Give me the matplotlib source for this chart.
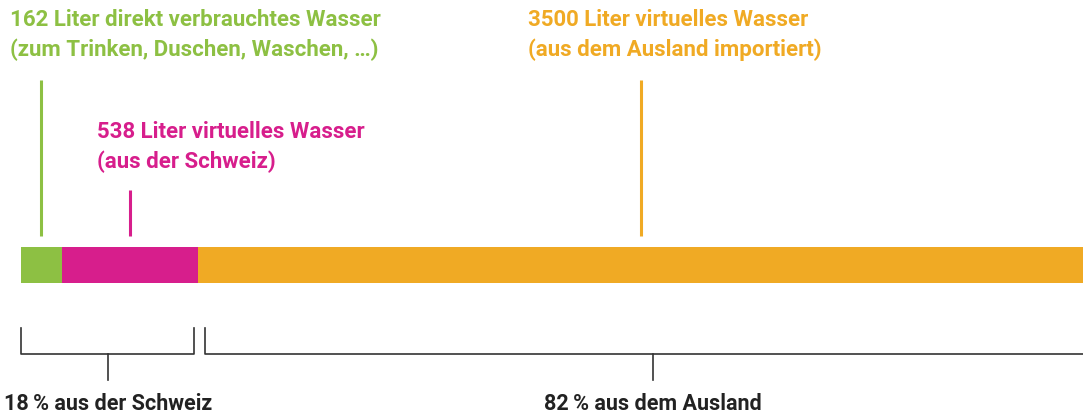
import matplotlib.pyplot as plt

# litres per person and day
parts = ["direkt", "virtuell CH", "virtuell Ausland"]
liters = [162, 538, 3500]
colors = ["#8DC043", "#D71E8C", "#F0AA24"]
labels = [
    "162 Liter direkt verbrauchtes Wasser\n(zum Trinken, Duschen, Waschen, …)",
    "538 Liter virtuelles Wasser\n(aus der Schweiz)",
    "3500 Liter virtuelles Wasser\n(aus dem Ausland importiert)",
]
groups = ["18\u2009% aus der Schweiz", "82\u2009% aus dem Ausland"]
group_parts = [(0, 2), (2, 3)]

plt.rcParams['font.family'] = ['Roboto', 'DejaVu Sans']

fig = plt.figure(figsize=(10.83, 4.15), dpi=100)
ax = fig.add_axes([21 / 1083, 0, 1062 / 1083, 1])
total = sum(liters)
ax.set_xlim(0, total)
ax.set_ylim(415, 0)  # pixel-like vertical units, top = 0
ax.axis('off')

# stacked bar
left = 0
starts = []
for val, col in zip(liters, colors):
    ax.barh(265, val, left=left, height=36, color=col, linewidth=0)
    starts.append(left)
    left += val

# label pointer lines + text
text_x = [-11, 76, 507]   # pixel offsets from axes left
text_y = [35, 147, 35]
line_top = [80, 190, 80]
for i, (val, s) in enumerate(zip(liters, starts)):
    mid = s + val / 2
    ax.plot([mid, mid], [line_top[i], 236], color=colors[i], lw=2.2,
            solid_capstyle='butt')
    ax.text(text_x[i] * total / 1062, text_y[i], labels[i], color=colors[i],
            fontsize=16, fontweight='bold', va='center', ha='left',
            linespacing=1.42, clip_on=False)

# brackets below the bar
gap = 0.017 * total
for k, ((a, b), g) in enumerate(zip(group_parts, groups)):
    x0 = sum(liters[:a]) + (gap * 0.4 if k > 0 else 0)
    x1 = sum(liters[:b]) - (gap * 0.2 if k == 0 else -gap)
    ax.plot([x0, x0, x1, x1], [328, 354, 354, 328], color="#333333", lw=1.2,
            clip_on=False)
    xm = (x0 + x1) / 2
    ax.plot([xm, xm], [354, 380], color="#333333", lw=1.2)
    ax.text(xm, 404, g, color="#222222", fontsize=15.5, fontweight='bold',
            ha='center', va='center')

fig.savefig("out.png", dpi=100)
